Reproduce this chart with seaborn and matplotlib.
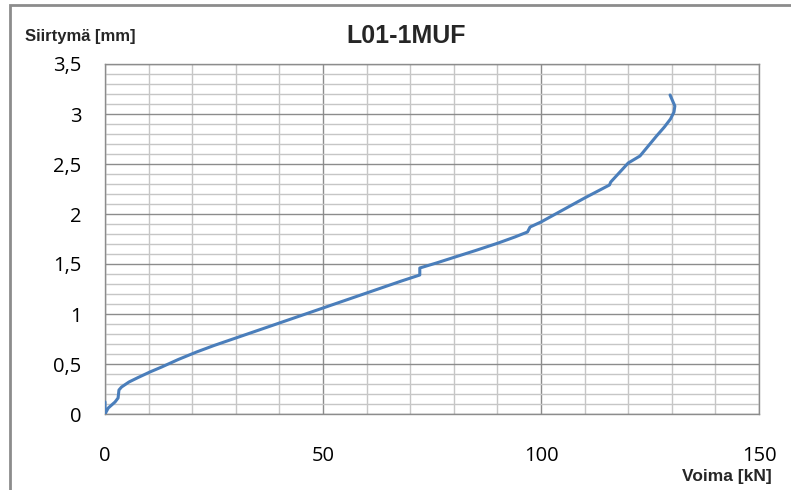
import matplotlib
matplotlib.use("Agg")
import matplotlib.pyplot as plt
import seaborn as sns
import pandas as pd
from matplotlib.ticker import MultipleLocator, FuncFormatter
from matplotlib.patches import Rectangle

# Data
force_kN = [0, 0, 0.75, 2.3, 3.0, 3.2, 3.8, 5.5, 7.6, 10.3, 13, 16.8, 21, 25, 30, 35, 40,
            45, 50, 55, 60, 65, 68, 72.2, 72.2, 76, 80.3, 85, 90.2, 94, 96.9, 97.5,
            100, 105, 110, 115.7, 116, 120, 122.7, 126.5, 128.3, 129.7, 130.5, 130.7, 129.6]
disp_mm = [0.12, 0.0, 0.06, 0.12, 0.16, 0.24, 0.27, 0.32, 0.365, 0.42, 0.47, 0.545, 0.62, 0.685,
           0.76, 0.835, 0.91, 0.985, 1.06, 1.135, 1.21, 1.285, 1.33, 1.39, 1.46, 1.51,
           1.57, 1.635, 1.71, 1.77, 1.82, 1.87, 1.92, 2.04, 2.16, 2.29, 2.32, 2.51,
           2.58, 2.78, 2.87, 2.95, 3.02, 3.08, 3.19]
x_ticks = [0, 50, 100, 150]
y_ticks = [0, 0.5, 1, 1.5, 2, 2.5, 3, 3.5]
title = "L01-1MUF"
x_label = "Voima [kN]"
y_label = "Siirtymä [mm]"

sns.set_style("white")
plt.rcParams['font.family'] = ['Open Sans', 'DejaVu Sans']

df = pd.DataFrame({"x": force_kN, "y": disp_mm})

fig = plt.figure(figsize=(7.91, 4.90), dpi=100)
ax = fig.add_axes([105/791, 1-414/490, (759-105)/791, (414-64)/490])

sns.lineplot(data=df, x="x", y="y", sort=False, estimator=None, ax=ax,
             color="#4a7ebb", lw=2.2, zorder=5)

ax.set_xlim(0, 150)
ax.set_ylim(0, 3.5)
ax.set_xticks(x_ticks)
ax.set_yticks(y_ticks)
ax.xaxis.set_minor_locator(MultipleLocator(10))
ax.yaxis.set_minor_locator(MultipleLocator(0.1))
fmt = FuncFormatter(lambda v, p: (f"{v:g}").replace(".", ","))
ax.xaxis.set_major_formatter(fmt)
ax.yaxis.set_major_formatter(fmt)

ax.grid(which="minor", color="#c6c6c6", lw=1.0)
ax.grid(which="major", color="#8c8c8c", lw=1.0)
ax.set_axisbelow(True)
for s in ax.spines.values():
    s.set_color("#8c8c8c")
    s.set_linewidth(1.0)

ax.tick_params(axis="x", which="major", direction="out", length=9, width=1,
               color="#8c8c8c", pad=14, labelsize=14.5, labelcolor="black")
ax.tick_params(axis="y", which="major", direction="out", length=5, width=1,
               color="#8c8c8c", pad=12, labelsize=14.5, labelcolor="black")
ax.tick_params(which="minor", length=0)
ax.set_xlabel("")
ax.set_ylabel("")

fig.text(406/791, 1-36/490, title, ha="center", va="center", fontsize=18,
         fontweight="bold", family=["Liberation Sans", "DejaVu Sans"])
fig.text(25/791, 1-37/490, y_label, ha="left", va="center", fontsize=12,
         fontweight="bold", family=["Liberation Sans", "DejaVu Sans"])
fig.text(772/791, 1-476/490, x_label, ha="right", va="center", fontsize=12.5,
         fontweight="bold", family=["Liberation Sans", "DejaVu Sans"])

fig.patches.append(Rectangle((10/791, -0.1), 1.2, (1-5/490) + 0.1,
                             transform=fig.transFigure, fill=False,
                             edgecolor="#8c8c8c", lw=2))

fig.savefig("out.png", dpi=100)
